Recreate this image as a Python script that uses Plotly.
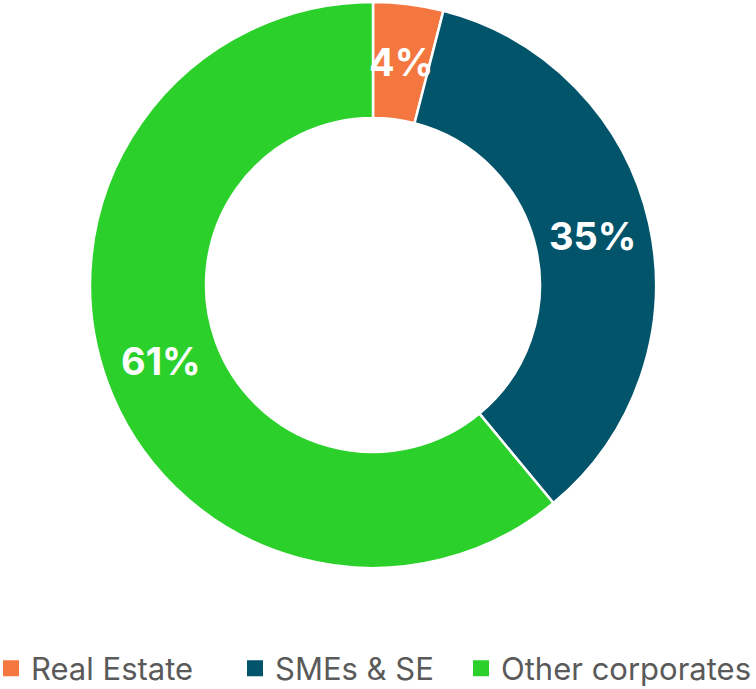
import math
import plotly.graph_objects as go

# Loan book split by segment (percent)
segments = ["Real Estate", "SMEs & SE", "Other corporates"]
shares = [4, 35, 61]
colors = ["#F4773F", "#01546A", "#2BD12A"]

HOLE = 0.59
W, H = 756, 689
M = dict(l=0, r=0, t=2, b=121)
DOMAIN_X = [0, 746 / 756]

fig = go.Figure(
    go.Pie(
        labels=segments,
        values=shares,
        hole=HOLE,
        sort=False,
        direction="clockwise",
        rotation=0,
        domain=dict(x=DOMAIN_X, y=[0, 1]),
        marker=dict(colors=colors, line=dict(color="white", width=2.5)),
        textinfo="none",
        hoverinfo="label+percent",
        showlegend=False,
    )
)

# Percentage labels sit mid-ring on each slice's bisector
plot_w = W - M["l"] - M["r"]
plot_h = H - M["t"] - M["b"]
dom_w = plot_w * (DOMAIN_X[1] - DOMAIN_X[0])
radius_px = min(dom_w, plot_h) / 2
mid_r = radius_px * (1 + HOLE) / 2
cx = (DOMAIN_X[0] + DOMAIN_X[1]) / 2
total = sum(shares)
cum = 0
for val in shares:
    ang = 2 * math.pi * (cum + val / 2) / total
    cum += val
    fig.add_annotation(
        x=cx + mid_r * math.sin(ang) / plot_w,
        y=0.5 + mid_r * math.cos(ang) / plot_h,
        xref="paper",
        yref="paper",
        text=f"{val}%",
        showarrow=False,
        xanchor="center",
        yanchor="middle",
        font=dict(family="Inter", size=38, color="white", weight="bold"),
    )

# One legend per segment so each entry can be spaced along the bottom row
legend_left_px = [-9, 235, 461]
legend_style = dict(
    orientation="h",
    xref="paper",
    yref="container",
    xanchor="left",
    y=0.0295,
    yanchor="middle",
    font=dict(family="Inter", size=31, color="#5a5a5a"),
    bgcolor="rgba(0,0,0,0)",
)
legend_layout = {}
for i, (name, col, left) in enumerate(zip(segments, colors, legend_left_px)):
    key = "legend" if i == 0 else f"legend{i + 1}"
    fig.add_trace(
        go.Scatter(
            x=[None],
            y=[None],
            mode="markers",
            name=name,
            marker=dict(symbol="square", size=16, color=col),
            legend=key,
            showlegend=True,
            hoverinfo="skip",
        )
    )
    legend_layout[key] = dict(legend_style, x=left / plot_w)

fig.update_layout(
    width=W,
    height=H,
    margin=dict(**M, autoexpand=False),
    paper_bgcolor="white",
    plot_bgcolor="white",
    xaxis=dict(visible=False),
    yaxis=dict(visible=False),
    **legend_layout,
)

fig.write_html("out.html")
